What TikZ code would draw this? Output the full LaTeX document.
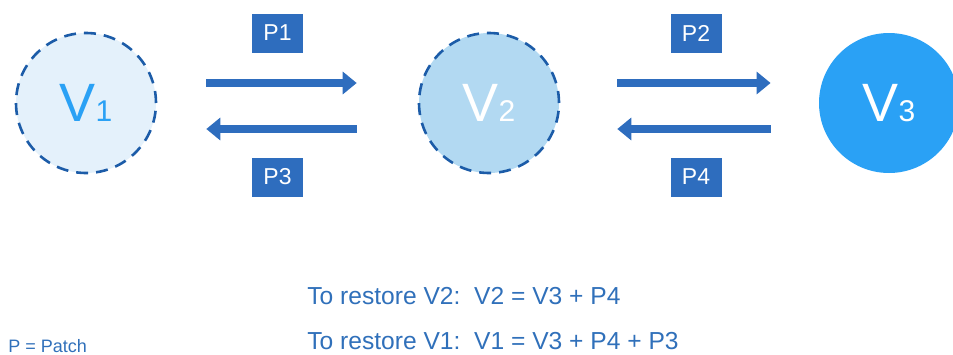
\documentclass[tikz,border=0pt]{standalone}
\usepackage{fontspec}
\setmainfont{Liberation Sans}
\usetikzlibrary{positioning, arrows.meta, calc}

\definecolor{patchblue}{RGB}{46,109,190}
\definecolor{rimblue}{RGB}{28,92,168}
\definecolor{paleblue}{RGB}{228,241,251}
\definecolor{softblue}{RGB}{178,217,242}
\definecolor{brightblue}{RGB}{42,161,245}
\definecolor{textblue}{RGB}{48,112,186}

\tikzset{
    version/.style={circle, minimum size=70pt, inner sep=0pt, font=\fontsize{27}{27}\selectfont},
    patch/.style={fill=patchblue, text=white, minimum width=25.5pt, minimum height=19.5pt, inner sep=0pt, font=\fontsize{11.5}{11.5}\selectfont},
    patcharrow/.style={-{Triangle[length=7pt,width=11pt]}, patchblue, line width=4pt},
    restore/.style={textblue, anchor=base west, inner sep=0pt, font=\fontsize{12.3}{12.3}\selectfont}
}
\newcommand{\vsub}[2]{#1\raisebox{0pt}{\fontsize{15}{15}\selectfont#2}}

\begin{document}
\begin{tikzpicture}[x=0.5pt, y=-0.5pt]
    \useasboundingbox (0,0) rectangle (953,354);

    % versions
    \node[version, fill=paleblue, draw=rimblue, dashed, line width=1.3pt, dash pattern=on 6pt off 4pt, text=brightblue] (v1) at (86,103) {\vsub{V}{1}};
    \node[version, fill=softblue, draw=rimblue, dashed, line width=1.3pt, dash pattern=on 6pt off 4pt, text=white] (v2) at (489,103) {\vsub{V}{2}};
    \node[version, fill=brightblue, text=white] (v3) at (889,103) {\vsub{V}{3}};

    % patches between versions
    \draw[patcharrow] ([shift={(49,-20)}]v1.east) -- ([shift={(-61,-20)}]v2.west);
    \draw[patcharrow] ([shift={(-61,26)}]v2.west) -- ([shift={(49,26)}]v1.east);
    \draw[patcharrow] ([shift={(57,-20)}]v2.east) -- ([shift={(-48,-20)}]v3.west);
    \draw[patcharrow] ([shift={(-48,26)}]v3.west) -- ([shift={(57,26)}]v2.east);

    \node[patch] (p1) at (277.5,33) {P1};
    \node[patch] (p3) at (277.5,177) {P3};
    \node[patch] (p2) at (696,33) {P2};
    \node[patch] (p4) at (696,177) {P4};

    % how to get back
    \node[restore] (r2) at (307,304) {To restore V2:\ \ V2 = V3 + P4};
    \node[restore] (r1) at (307,349) {To restore V1:\ \ V1 = V3 + P4 + P3};
    \node[textblue, anchor=base west, inner sep=0pt, font=\fontsize{9}{9}\selectfont] (key) at (8,352) {P = Patch};
\end{tikzpicture}
\end{document}
